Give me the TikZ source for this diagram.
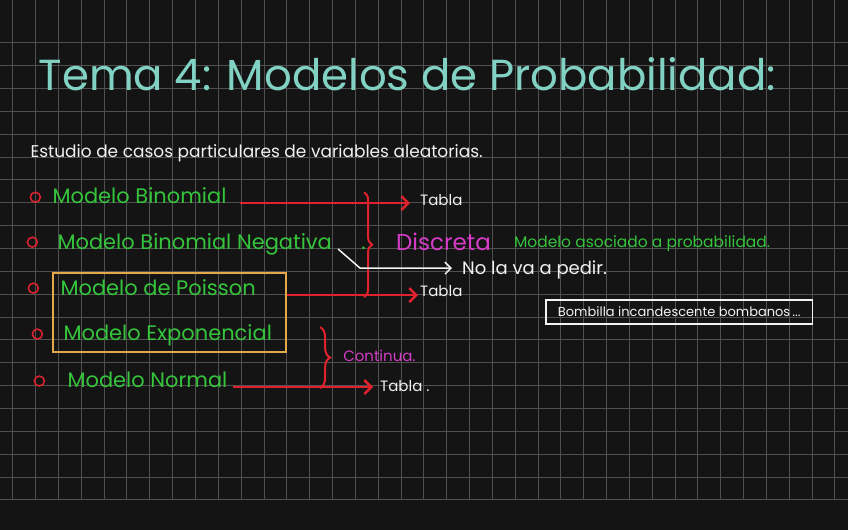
\documentclass[tikz,border=0pt]{standalone}
\usepackage{fontspec}
\setmainfont{Poppins}
\usetikzlibrary{arrows.meta, positioning, fit, decorations.pathreplacing}
\definecolor{fondo}{HTML}{141414}
\definecolor{rejilla}{HTML}{505050}
\definecolor{turquesa}{HTML}{82D2C3}
\definecolor{verde}{HTML}{35C43B}
\definecolor{rojo}{HTML}{E0222E}
\definecolor{magenta}{HTML}{D63CC8}
\definecolor{naranja}{HTML}{E3A94A}
\definecolor{tiza}{HTML}{F2F2F2}
\tikzset{
  texto/.style={anchor=base west,inner sep=0pt},
  titular/.style={texto,text=turquesa,font=\fontsize{43.5}{52}\selectfont},
  modelo/.style={texto,text=verde,font=\fontsize{21}{25}\selectfont},
  nota/.style={texto,text=tiza,font=\fontsize{15}{18}\selectfont},
  bala/.style={circle,draw=rojo,line width=1.5pt,minimum size=10pt,inner sep=0pt},
  flecha/.style={draw=rojo,line width=2.5pt,-{Straight Barb[length=7pt,width=14pt]}},
  llave/.style={draw=rojo,line width=2pt,decorate,decoration={brace,amplitude=8pt}},
  enlace/.style={draw=tiza,line width=1.5pt,-{Straight Barb[length=6pt,width=12pt]}}
}

\begin{document}
\begin{tikzpicture}[x=1pt,y=-1pt]
% pizarra
\fill[fondo] (0,0) rectangle (848,530);
\foreach \i in {0,...,36}
  \draw[rejilla,line width=0.8pt] (12.3+22.86*\i,0) -- (12.3+22.86*\i,500);
\foreach \j in {0,...,20}
  \draw[rejilla,line width=0.8pt] (0,42.3+22.88*\j) -- (848,42.3+22.88*\j);

\node[titular] (tema) at (38,90) {Tema 4: Modelos de Probabilidad:};
\node[nota,font=\fontsize{17}{20}\selectfont] (estudio) at (30,157) {Estudio de casos particulares de variables aleatorias.};

% modelos
\node[bala] (b1) at (35,197) {};
\node[bala] (b2) at (32,242) {};
\node[bala] (b3) at (33,288) {};
\node[bala] (b4) at (37,334) {};
\node[bala] (b5) at (39,381) {};
\node[modelo] (binom) at (52,203) {Modelo Binomial};
\node[modelo] (negativa) at (57,249) {Modelo Binomial Negativa};
\node[modelo] (punto) at (361,249) {.};
\node[modelo] (poisson) at (60,295) {Modelo de Poisson};
\node[modelo] (expo) at (63,340) {Modelo Exponencial};
\node[modelo] (normal) at (67,387) {Modelo Normal};
\coordinate (esquina) at (279,300);
\node[draw=naranja,line width=2pt,fit=(poisson)(expo)(esquina),inner xsep=7pt,inner ysep=6pt] (caja) {};

% tablas
\node[nota] (tabla1) at (420,205) {Tabla};
\node[nota] (tabla2) at (420,296) {Tabla};
\node[nota] (tabla3) at (380,391) {Tabla .};
\coordinate (f1) at (240,203);
\coordinate (f3) at (233,387);
\draw[flecha,shorten >=10pt] (f1) -- (f1 -| tabla1.west);
\draw[flecha,shorten >=2pt] (caja.east |- 0,295) -- (tabla2.west |- 0,295);
\draw[flecha,shorten >=7pt] (f3) -- (f3 -| tabla3.west);

% discreta
\draw[llave] (364,192) -- (364,297);
\node[texto,text=magenta,font=\fontsize{23}{27}\selectfont] (discreta) at (396,250) {Discreta};
\node[texto,text=verde,font=\fontsize{15.5}{18}\selectfont] (asociado) at (514,247) {Modelo asociado a probabilidad.};
\node[nota,font=\fontsize{18}{21}\selectfont] (nopedir) at (462,274) {No la va a pedir.};
\coordinate (codo) at (360,268);
\draw[enlace,shorten >=10pt] ([shift={(6,5)}]negativa.east) -- (codo) -- (codo -| nopedir.west);

% continua
\draw[llave,decoration={amplitude=10pt}] (320,327) -- (320,388);
\node[texto,text=magenta,font=\fontsize{15}{18}\selectfont] (continua) at (343,361) {Continua.};

\node[draw=tiza,line width=1.5pt,text=tiza,font=\fontsize{13}{16}\selectfont,minimum width=267pt,minimum height=24pt,inner sep=0pt] (bombilla) at (679.5,312) {Bombilla incandescente bombanos\,...};
\end{tikzpicture}
\end{document}
